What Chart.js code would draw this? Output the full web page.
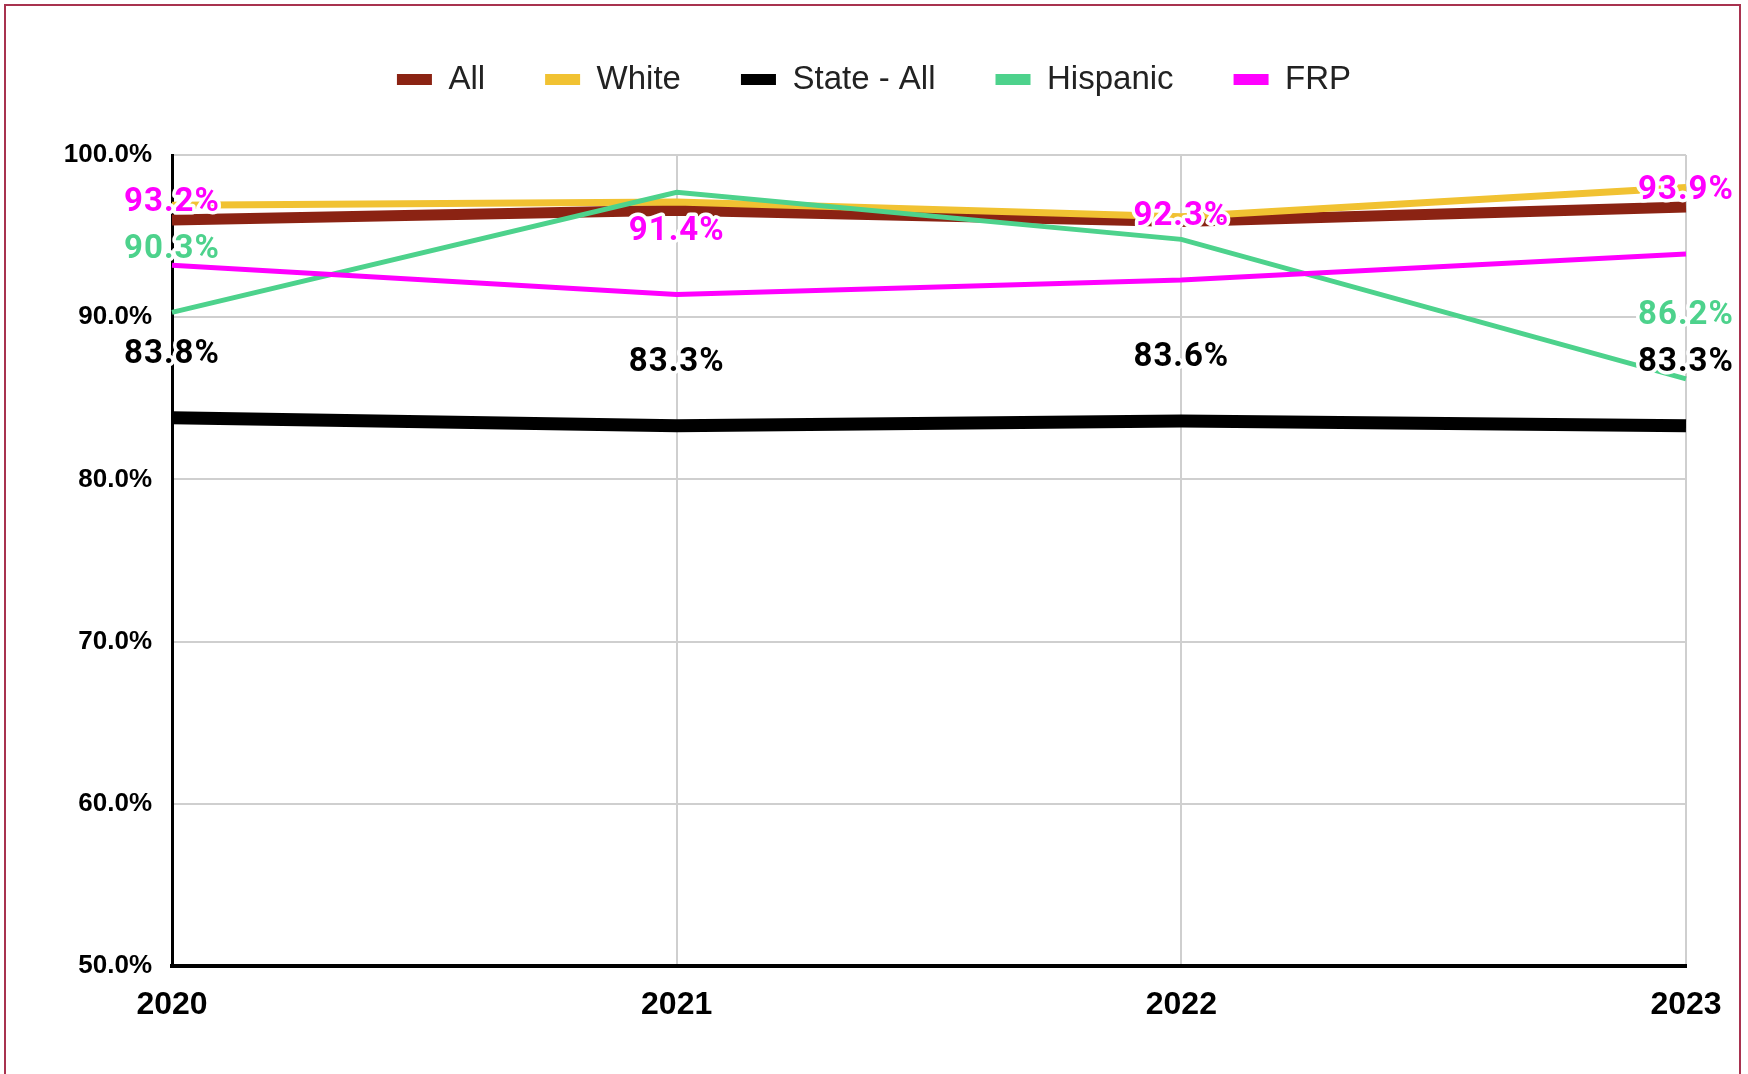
<!DOCTYPE html>
<html>
<head>
<meta charset="utf-8">
<script src="https://cdn.jsdelivr.net/npm/chart.js@4.4.1/dist/chart.umd.min.js"></script>
<style>
  html, body { margin: 0; padding: 0; background: #fff; overflow: hidden; }
  #wrap { position: absolute; left: 0; top: 0; width: 1748px; height: 1074px; }
  #frame { position: absolute; left: 4px; top: 4px; width: 1733px; height: 1100px;
           border: 2px solid #a8324f; border-bottom: none; pointer-events: none; }
</style>
</head>
<body>
<div id="wrap">
  <canvas id="c" width="1748" height="1074"></canvas>
  <div id="frame"></div>
</div>
<script>
// ---- data ----
const years = ['2020', '2021', '2022', '2023'];
const seriesNames = ['All', 'White', 'State - All', 'Hispanic', 'FRP'];
const allVals = [96.0, 96.6, 95.9, 96.8];
const whiteVals = [96.9, 97.1, 96.2, 98.0];
const stateVals = [83.8, 83.3, 83.6, 83.3];
const hispanicVals = [90.3, 97.7, 94.8, 86.2];
const frpVals = [93.2, 91.4, 92.3, 93.9];
const yMin = 50, yMax = 100, yStep = 10;
// which points carry a value label
const stateLabelIdx = [0, 1, 2, 3];
const hispanicLabelIdx = [0, 3];
const frpLabelIdx = [0, 1, 2, 3];

const colors = ['#8b2313', '#f1c232', '#000000', '#4dd28c', '#ff00ff'];
const widths = [11, 7, 13, 5, 5];
const orders = [5, 4, 3, 2, 1];
const valueSets = [allVals, whiteVals, stateVals, hispanicVals, frpVals];
const labelSets = [[], [], stateLabelIdx, hispanicLabelIdx, frpLabelIdx];

const datasets = seriesNames.map((name, i) => ({
  label: name,
  data: valueSets[i],
  borderColor: colors[i],
  backgroundColor: colors[i],
  borderWidth: widths[i],
  pointRadius: 0,
  pointHoverRadius: 0,
  tension: 0,
  order: orders[i],
  labelIdx: labelSets[i]
}));

const valueLabels = {
  id: 'valueLabels',
  afterDatasetsDraw(chart) {
    const ctx = chart.ctx;
    ctx.save();
    ctx.font = 'bold 33px Roboto, "Liberation Sans", sans-serif';
    try { ctx.letterSpacing = '1px'; } catch (e) {}
    ctx.textAlign = 'center';
    ctx.textBaseline = 'middle';
    ctx.lineJoin = 'round';
    [2, 3, 4].forEach(di => {
      const ds = chart.data.datasets[di];
      const meta = chart.getDatasetMeta(di);
      ds.labelIdx.forEach(idx => {
        const pt = meta.data[idx];
        const txt = ds.data[idx].toFixed(1) + '%';
        const y = pt.y - 63;
        ctx.strokeStyle = '#ffffff';
        ctx.lineWidth = 7;
        ctx.strokeText(txt, pt.x, y);
        ctx.fillStyle = ds.borderColor;
        ctx.fillText(txt, pt.x, y);
      });
    });
    ctx.restore();
  }
};

const legendFix = {
  id: 'legendFix',
  beforeInit(chart) {
    const orig = chart.legend.fit;
    chart.legend.fit = function () {
      orig.bind(chart.legend)();
      this.height = 152;
    };
  }
};

new Chart(document.getElementById('c'), {
  type: 'line',
  data: { labels: years, datasets },
  plugins: [legendFix, valueLabels],
  options: {
    responsive: false,
    animation: false,
    layout: { padding: { top: 3, left: 0, right: 0, bottom: 28 } },
    plugins: {
      tooltip: { enabled: false },
      legend: {
        position: 'top',
        align: 'center',
        labels: {
          boxWidth: 35,
          boxHeight: 11,
          padding: 60,
          color: '#222222',
          font: { family: '"Liberation Sans", Arial, sans-serif', size: 33 },
          sort: (a, b) => a.datasetIndex - b.datasetIndex,
          generateLabels: (chart) =>
            Chart.defaults.plugins.legend.labels.generateLabels(chart).map(l =>
              Object.assign(l, { lineWidth: 0, fillStyle: l.strokeStyle }))
        }
      }
    },
    scales: {
      x: {
        offset: false,
        grid: {
          color: (c) => c.index === 0 ? 'rgba(0,0,0,0)' : '#cfcfcf',
          lineWidth: 2,
          drawTicks: false
        },
        border: { color: '#000000', width: 4 },
        ticks: {
          color: '#000000',
          padding: 20,
          maxRotation: 0,
          font: { family: '"Liberation Sans", Arial, sans-serif', size: 32, weight: 'bold' }
        },
        afterFit(scale) { scale.height = 80; scale.paddingLeft = 0; scale.paddingRight = 62; }
      },
      y: {
        min: yMin,
        max: yMax,
        grid: {
          color: (c) => c.tick && c.tick.value === yMin ? 'rgba(0,0,0,0)' : '#cfcfcf',
          lineWidth: 2,
          drawTicks: false
        },
        border: { color: '#000000', width: 3 },
        ticks: {
          stepSize: yStep,
          color: '#000000',
          padding: 20,
          font: { family: '"Liberation Sans", Arial, sans-serif', size: 26, weight: 'bold' },
          callback: (v) => Number(v).toFixed(1) + '%'
        },
        afterFit(scale) { scale.width = 172; scale.paddingTop = 0; scale.paddingBottom = 0; }
      }
    }
  }
});
</script>
</body>
</html>
